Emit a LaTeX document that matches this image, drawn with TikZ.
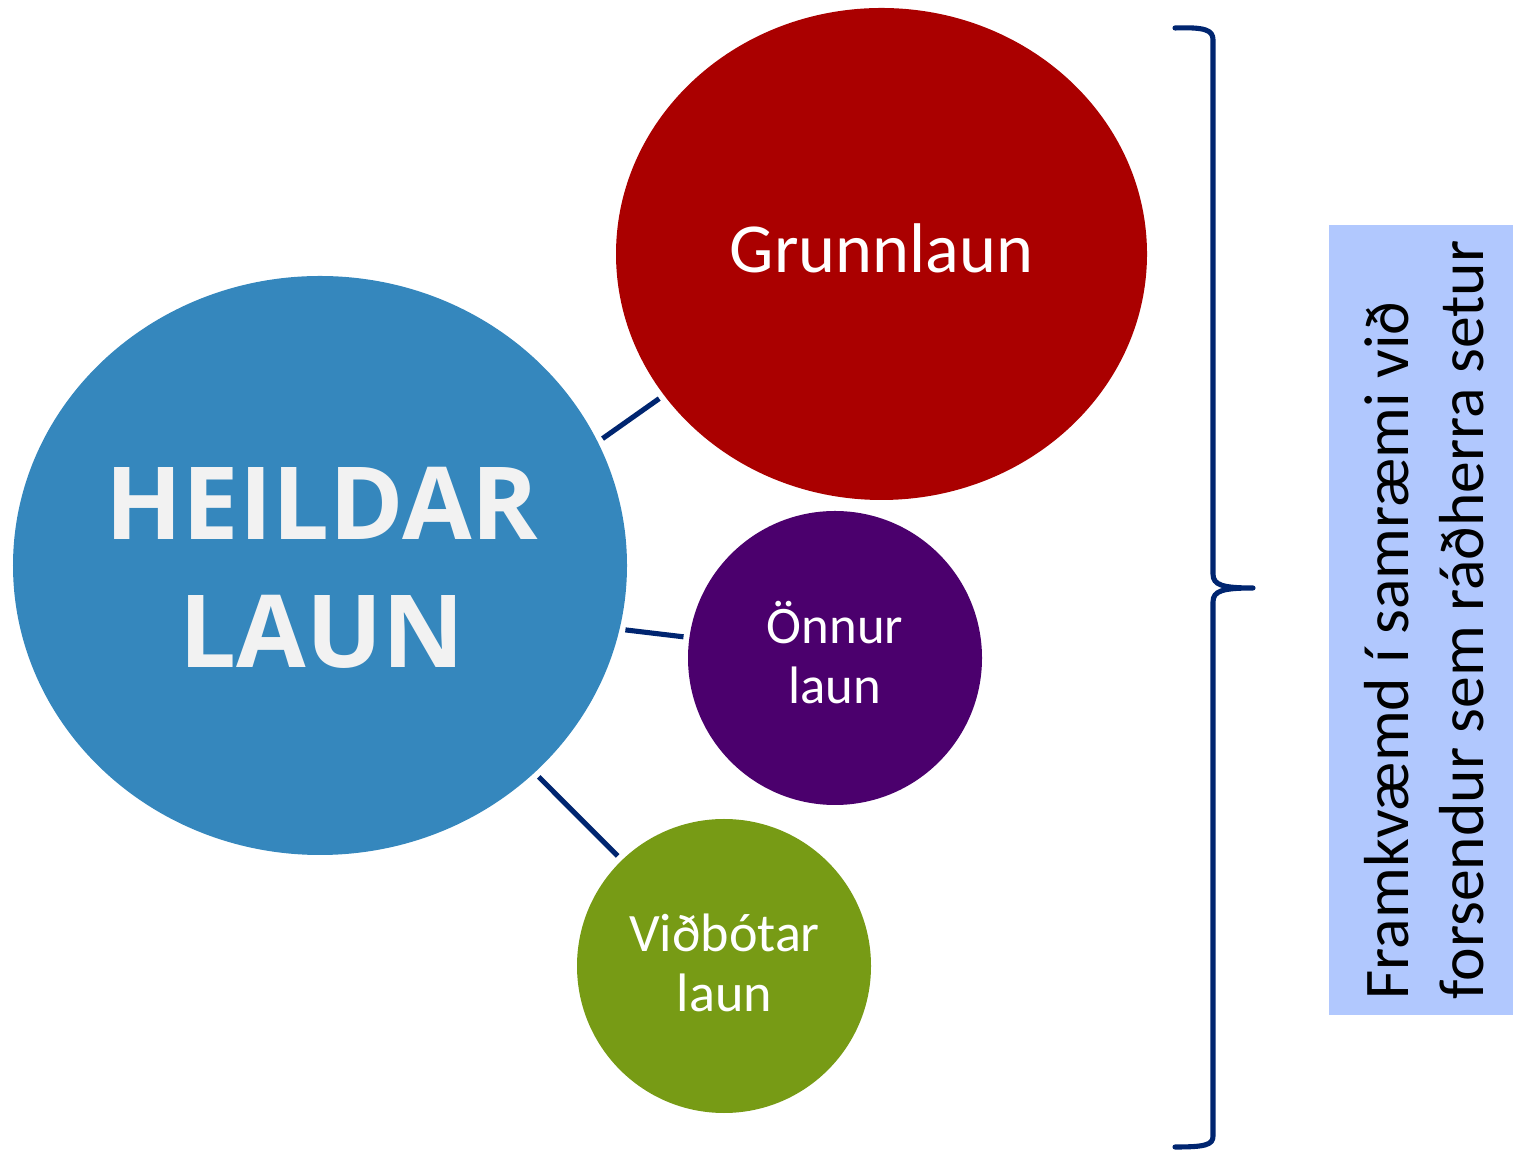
\documentclass[tikz,border=0pt]{standalone}
\usepackage{fontspec}
\setmainfont{Carlito}
\newfontfamily\heavyfont{Open Sans}
\usetikzlibrary{shapes.geometric}
\definecolor{cHeild}{HTML}{3587BD}
\definecolor{cGrunn}{HTML}{AA0000}
\definecolor{cOnnur}{HTML}{4B006D}
\definecolor{cVidb}{HTML}{779B15}
\definecolor{cBox}{HTML}{B1C8FE}
\definecolor{cLine}{HTML}{002570}
\definecolor{cTxt}{HTML}{F2F2F2}
\tikzset{
  bubble/.style={ellipse, inner sep=0pt, draw=none},
  conn/.style={draw=cLine, line width=1.45pt, shorten >=1.5pt, shorten <=1.5pt},
  lbl/.style={inner sep=0pt, align=center, text=white}
}
\begin{document}
\begin{tikzpicture}
\useasboundingbox (0,0) rectangle (15.13,11.52);
% bubbles
\node[bubble, fill=cHeild, minimum width=6.14cm, minimum height=5.79cm] (heildar) at (3.20,5.865) {};
\node[bubble, fill=cGrunn, minimum width=5.31cm, minimum height=4.92cm] (grunn) at (8.815,8.98) {};
\node[bubble, fill=cOnnur, minimum width=2.94cm, minimum height=2.94cm] (onnur) at (8.35,4.94) {};
\node[bubble, fill=cVidb, minimum width=2.94cm, minimum height=2.94cm] (vidb) at (7.24,1.86) {};
% labels
\node[lbl, text=cTxt, font=\heavyfont\fontsize{28.7}{36.4}\selectfont\bfseries] (heildarT) at (3.22,5.845) {HEILDAR\\LAUN};
\node[lbl, font=\fontsize{20}{24}\selectfont] (grunnT) at (8.815,9.035) {Grunnlaun};
\node[lbl, font=\fontsize{15}{17.07}\selectfont] (onnurT) at (8.35,4.99) {Önnur\\laun};
\node[lbl, font=\fontsize{15.4}{17.07}\selectfont] (vidbT) at (7.245,1.89) {Viðbótar\\laun};
% connectors
\draw[conn] (heildar.24) -- (grunn.213);
\draw[conn] (heildar.-12) -- (onnur.172.5);
\draw[conn] (heildar.-44.3) -- (vidb.134.5);
% brace
\coordinate (bTop) at (11.75,11.24);
\coordinate (bTip) at (12.53,5.64);
\coordinate (bBot) at (11.75,0.05);
\draw[cLine, line width=1.45pt, line cap=round, line join=round]
  (bTop) .. controls (12.05,11.25) and (12.13,11.22) .. (12.13,11.12)
  -- (12.13,5.78) .. controls (12.13,5.67) and (12.22,5.64) .. (bTip)
  .. controls (12.22,5.64) and (12.13,5.61) .. (12.13,5.50)
  -- (12.13,0.16) .. controls (12.13,0.07) and (12.05,0.05) .. (bBot);
% side box
\node[fill=cBox, inner sep=0pt, minimum width=1.85cm, minimum height=7.90cm, anchor=north west] (sidebox) at (13.28,9.28) {};
\node[inner sep=0pt, rotate=90, anchor=west, align=left, font=\fontsize{18.1}{21.3}\selectfont] (sideT) at (14.24,1.52) {Framkvæmd í samræmi við\\forsendur sem ráðherra setur};
\end{tikzpicture}
\end{document}
